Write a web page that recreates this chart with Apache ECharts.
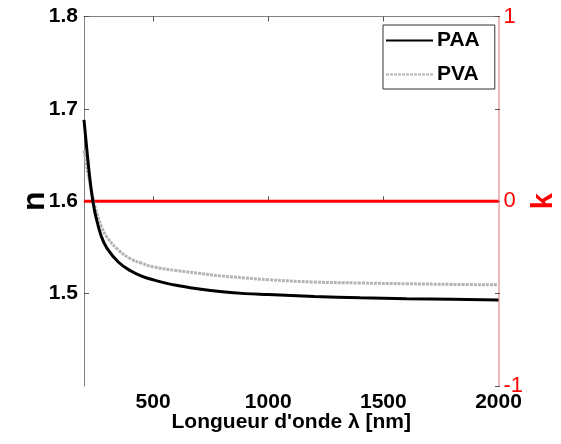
<!DOCTYPE html>
<html>
<head>
<meta charset="utf-8">
<script src="https://cdn.jsdelivr.net/npm/echarts@6/dist/echarts.min.js"></script>
<style>
html,body{margin:0;padding:0;background:#fff;}
#c{width:561px;height:444px;}
</style>
</head>
<body>
<div id="c"></div>
<script>
// Data
var wavelength = [200, 210, 220, 230, 240, 250, 275, 300, 350, 400, 450, 500, 600, 700, 800, 900, 1000, 1200, 1400, 1600, 1800, 2000];
var nPAA = [1.688, 1.662, 1.637, 1.615, 1.598, 1.585, 1.562, 1.549, 1.534, 1.525, 1.519, 1.515, 1.509, 1.505, 1.502, 1.500, 1.499, 1.497, 1.4955, 1.4945, 1.4938, 1.4932];
var nPVA = [1.655, 1.640, 1.627, 1.614, 1.602, 1.592, 1.573, 1.561, 1.547, 1.538, 1.533, 1.529, 1.525, 1.522, 1.519, 1.517, 1.515, 1.5125, 1.5115, 1.5107, 1.5100, 1.5095];
var kWavelength = [200, 2000];
var kValues = [0, 0];
var xTicks = [500, 1000, 1500, 2000];
var xTickMarks = [500, 1000, 1500];
var seriesNames = ['PAA', 'PVA'];

function pairs(xs, ys) { return xs.map(function (x, i) { return [x, ys[i]]; }); }

var chart = echarts.init(document.getElementById('c'), null, {renderer: 'canvas'});
var FONT = 'Liberation Sans, Arial, sans-serif';
chart.setOption({
  animation: false,
  backgroundColor: '#ffffff',
  grid: {left: 84, right: 62.5, top: 16.5, bottom: 58, containLabel: false, outerBoundsMode: 'none'},
  legend: {
    show: true,
    data: seriesNames,
    orient: 'vertical',
    left: 383,
    top: 25,
    padding: [5, 15, 4, 2],
    itemGap: 13,
    itemWidth: 47,
    itemHeight: 14,
    borderColor: '#333',
    borderWidth: 1,
    backgroundColor: '#fff',
    itemStyle: {opacity: 0},
    textStyle: {fontFamily: FONT, fontWeight: 'bold', fontSize: 21, color: '#000', padding: [0, 0, 0, -1]}
  },
  xAxis: [{
    type: 'value', min: 200, max: 2000, position: 'bottom',
    name: 'Longueur d\'onde λ [nm]', nameLocation: 'middle', nameGap: 26, nameMoveOverlap: false,
    nameTextStyle: {fontFamily: FONT, fontWeight: 'bold', fontSize: 21, color: '#000'},
    axisLine: {show: true, lineStyle: {color: '#808080', width: 1}},
    axisTick: {show: true, inside: true, length: 5, customValues: xTickMarks, lineStyle: {color: '#555'}},
    axisLabel: {show: true, customValues: xTicks, margin: 6, fontFamily: FONT, fontWeight: 'bold', fontSize: 21, color: '#000',
      formatter: function (v) { return String(v); }},
    splitLine: {show: false}
  }, {
    type: 'value', min: 200, max: 2000, position: 'top',
    axisLine: {show: true, lineStyle: {color: '#808080', width: 1}},
    axisTick: {show: true, inside: true, length: 5, customValues: xTickMarks, lineStyle: {color: '#555'}},
    axisLabel: {show: false},
    splitLine: {show: false}
  }],
  yAxis: [{
    type: 'value', min: 1.4, max: 1.8, interval: 0.1, position: 'left',
    name: 'n', nameLocation: 'middle', nameGap: 33, nameRotate: 90, nameMoveOverlap: false,
    nameTextStyle: {fontFamily: FONT, fontWeight: 'bold', fontSize: 32, color: '#000'},
    axisLine: {show: true, lineStyle: {color: '#808080', width: 1}},
    axisTick: {show: true, inside: true, length: 5, lineStyle: {color: '#555'}},
    axisLabel: {show: true, showMinLabel: false, margin: 6, fontFamily: FONT, fontWeight: 'bold', fontSize: 21, color: '#000',
      formatter: function (v) { return v.toFixed(1); }},
    splitLine: {show: false}
  }, {
    type: 'value', min: -1, max: 1, interval: 1, position: 'right',
    name: 'k', nameLocation: 'middle', nameGap: 31, nameRotate: 90, nameMoveOverlap: false,
    nameTextStyle: {fontFamily: FONT, fontWeight: 'bold', fontSize: 29, color: '#ff0000'},
    axisLine: {show: true, lineStyle: {color: '#f0a0a0', width: 1.5}},
    axisTick: {show: false},
    axisLabel: {show: true, margin: 5, fontFamily: FONT, fontSize: 22, color: '#ff0000'},
    splitLine: {show: false}
  }, {
    type: 'value', min: 1.4, max: 1.8, interval: 0.1, position: 'right', offset: 1.5,
    axisLine: {show: false},
    axisTick: {show: true, inside: true, length: 5, lineStyle: {color: '#555'}},
    axisLabel: {show: false},
    splitLine: {show: false}
  }],
  series: [{
    name: 'k', type: 'line', yAxisIndex: 1, xAxisIndex: 0,
    data: pairs(kWavelength, kValues), symbol: 'none', silent: true,
    lineStyle: {color: '#ff0000', width: 3}, z: 1
  }, {
    name: seriesNames[1], type: 'line', yAxisIndex: 0, xAxisIndex: 0,
    data: pairs(wavelength, nPVA), symbol: 'none', smooth: 0.4,
    itemStyle: {color: '#b4b4b4'},
    lineStyle: {color: '#b4b4b4', width: 3, type: [3, 1]}, z: 2
  }, {
    name: seriesNames[0], type: 'line', yAxisIndex: 0, xAxisIndex: 0,
    data: pairs(wavelength, nPAA), symbol: 'none', smooth: 0.4,
    itemStyle: {color: '#000'},
    lineStyle: {color: '#000', width: 3}, z: 3
  }]
});
</script>
</body>
</html>
